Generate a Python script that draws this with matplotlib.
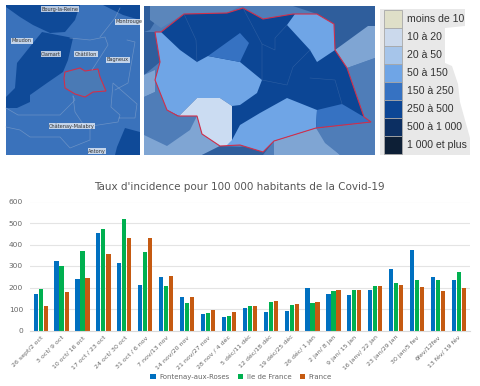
import matplotlib
matplotlib.use("Agg")
import matplotlib.pyplot as plt
from matplotlib.patches import Polygon, Rectangle
import numpy as np

# bar chart values
periods = ["26 sept/2 oct", "3 oct/ 9 oct", "10 oct/ 16 oct", "17 oct / 23 oct", "24 oct/ 30 oct",
           "31 oct / 6 nov", "7 nov/13 nov", "14 nov/20 nov", "21 nov/27 nov", "28 nov / 4 déc",
           "5 déc/11 déc", "12 déc/18 déc", "19 déc/25 déc", "26 déc/ 1 jan", "2 jan/ 8 jan",
           "9 jan/ 15 jan", "16 janv/ 22 jan", "23 jan/29 jan", "30 jan/5 fev", "6fev/12fev", "13 fév/ 19 fév"]
fontenay = [168, 325, 240, 455, 313, 212, 248, 155, 78, 62, 105, 87, 90, 198, 168, 163, 188, 285, 376, 248, 237]
idf = [195, 298, 370, 473, 518, 365, 207, 128, 82, 66, 112, 133, 118, 128, 182, 190, 208, 220, 235, 234, 270]
france = [112, 178, 246, 355, 428, 428, 255, 155, 95, 85, 113, 138, 125, 133, 190, 187, 206, 210, 202, 184, 198]

# map legend
class_labels = ["moins de 10", "10 à 20", "20 à 50", "50 à 150", "150 à 250", "250 à 500", "500 à 1 000", "1 000 et plus"]
class_colors = ["#dfdfc8", "#cbd9ec", "#a6c5ea", "#6fa5e6", "#3672c2", "#0c4695", "#0c2f62", "#0d1f36"]

# left map, pixel outlines of the communes
left_dark = [
    [(6, 5), (80, 5), (75, 20), (65, 32), (50, 33), (33, 25), (20, 17), (6, 7)],
    [(42, 32), (73, 38), (68, 60), (63, 72), (47, 83), (30, 95), (30, 102), (17, 108), (6, 108),
     (6, 97), (15, 88), (17, 63), (25, 53), (33, 43)],
    [(103, 5), (140, 5), (140, 20), (123, 15)],
    [(125, 128), (140, 132), (140, 155), (115, 155), (117, 147)],
]
left_lines = [
    [(6, 108), (18, 115), (60, 115), (75, 100), (73, 96)],
    [(73, 96), (75, 112), (85, 127), (118, 122), (120, 115), (111, 107), (113, 83), (137, 104), (135, 118), (119, 118)],
    [(6, 127), (20, 130), (30, 137), (60, 137), (70, 148), (90, 140), (90, 128)],
    [(127, 40), (135, 42), (128, 83), (115, 90)],
    [(70, 38), (90, 40), (105, 37), (108, 45), (92, 70)],
    [(100, 37), (115, 18), (120, 8)],
]
fontenay_outline = [(65, 72), (80, 68), (85, 71), (98, 69), (100, 77), (106, 91), (93, 92), (85, 97), (75, 94), (65, 88), (64, 78)]
left_labels = ["Bourg-la-Reine", "Meudon", "Clamart", "Châtillon", "Bagneux", "Montrouge", "Châtenay-Malabry", "Antony"]
left_label_xy = [(60, 9), (22, 41), (51, 54), (86, 54), (118, 60), (129, 22), (72, 126), (97, 151)]

# zoomed map, pixel outlines
zoom_outline = [(184, 14), (227, 13), (243, 8), (263, 19), (293, 14), (317, 14), (334, 24), (335, 50), (347, 68),
                (364, 117), (371, 122), (316, 128), (274, 141), (263, 152), (240, 145), (220, 146), (202, 134),
                (197, 116), (178, 116), (167, 110), (155, 80), (160, 62), (155, 32), (161, 32)]
zoom_cells = [
    ("#6fa5e6", [(155, 32), (161, 32), (180, 50), (197, 62), (208, 56), (240, 62), (262, 80), (257, 93), (240, 105),
                 (232, 106), (220, 98), (197, 98), (179, 116), (167, 110), (155, 80), (160, 62)]),
    ("#cbdcf2", [(179, 116), (197, 98), (220, 98), (232, 106), (232, 146), (220, 146), (202, 134), (197, 116)]),
    ("#3672c2", [(208, 56), (240, 33), (249, 43), (240, 62)]),
    ("#6fa5e6", [(287, 25), (295, 14), (317, 14), (334, 24), (335, 50), (317, 62), (310, 50)]),
    ("#6fa5e6", [(240, 145), (263, 152), (274, 141), (316, 128), (317, 110), (287, 98), (260, 113), (240, 125), (232, 140), (226, 146)]),
    ("#3672c2", [(317, 110), (342, 104), (364, 117), (371, 122), (316, 128)]),
]
zoom_outside = [
    ("#2f5e9c", [(144, 6), (165, 6), (150, 30), (144, 32)]),
    ("#2f5e9c", [(144, 32), (155, 32), (160, 62), (144, 75)]),
    ("#7fa5d3", [(144, 75), (155, 70), (155, 92), (144, 97)]),
    ("#5b86bb", [(150, 6), (240, 6), (227, 13), (184, 14), (161, 28), (150, 20)]),
    ("#4f7db8", [(240, 6), (293, 6), (293, 14), (263, 19), (243, 8)]),
    ("#2f5e9c", [(293, 6), (375, 6), (375, 26), (335, 50), (334, 24), (317, 14)]),
    ("#7fa5d3", [(335, 50), (368, 26), (375, 26), (375, 58), (347, 68)]),
    ("#4f7db8", [(347, 68), (375, 58), (375, 123), (364, 117)]),
    ("#4f7db8", [(144, 97), (155, 92), (167, 110), (197, 116), (190, 130), (167, 146), (144, 135)]),
    ("#7fa5d3", [(144, 135), (167, 146), (190, 130), (197, 116), (202, 134), (220, 146), (202, 155), (144, 155)]),
    ("#2f5e9c", [(202, 155), (220, 146), (240, 147), (274, 141), (263, 155)]),
    ("#7fa5d3", [(274, 141), (316, 128), (330, 145), (340, 155), (274, 155)]),
    ("#4f7db8", [(316, 128), (375, 123), (375, 155), (340, 155), (325, 143)]),
]
zoom_inner = [
    [(184, 14), (196, 40), (197, 62)],
    [(243, 8), (262, 44), (275, 50), (275, 38), (287, 25)],
    [(262, 44), (262, 80), (287, 85), (293, 67), (310, 50)],
    [(310, 78), (335, 80), (342, 104)],
]
legend_edge = [(380, 9), (465, 9), (465, 26), (445, 28), (445, 63), (452, 66), (458, 84), (460, 102), (465, 120),
               (470, 138), (470, 155), (380, 155)]

fig = plt.figure(figsize=(4.8, 3.86), dpi=100)
bg = fig.add_axes([0, 0, 1, 1])
bg.set_xlim(0, 480); bg.set_ylim(386, 0); bg.axis("off")

# left map
bg.add_patch(Rectangle((6, 5), 134, 150, fc="#3a72bb", ec="none"))
for pts in left_dark:
    bg.add_patch(Polygon(pts, fc="#0f4a98", ec="none"))
for pts in left_lines:
    bg.plot(*zip(*pts), color="#7f9fca", lw=0.5, alpha=0.7)
bg.add_patch(Polygon(fontenay_outline, fc="#4a7ab5", ec="#d22f4a", lw=0.8))
for lab, (x, y) in zip(left_labels, left_label_xy):
    bg.text(x, y, lab, fontsize=3.6, color="#333333", ha="center", va="center",
            bbox=dict(fc="white", ec="none", alpha=0.7, pad=0.4))

# zoomed map
bg.add_patch(Rectangle((144, 6), 231, 149, fc="#4f7db8", ec="none"))
for col, pts in zoom_outside:
    bg.add_patch(Polygon(pts, fc=col, ec="none"))
bg.add_patch(Polygon(zoom_outline, fc="#0c4695", ec="none"))
for col, pts in zoom_cells:
    bg.add_patch(Polygon(pts, fc=col, ec="none"))
for pts in zoom_inner:
    bg.plot(*zip(*pts), color="#3a68a8", lw=0.4, alpha=0.7)
bg.add_patch(Polygon(zoom_outline, fc="none", ec="#d22f4a", lw=0.8))

# map legend
bg.add_patch(Polygon(legend_edge, fc="#e8e8e8", ec="none"))
for i, (lab, col) in enumerate(zip(class_labels, class_colors)):
    y0 = 10 + i * 18
    bg.add_patch(Rectangle((384, y0), 18, 18, fc=col, ec="#a8a8a8", lw=0.6))
    bg.text(407, y0 + 9.5, lab, fontsize=7.6, family="Liberation Sans", color="#333333", va="center")

# incidence bars
ax = fig.add_axes([30 / 480, 1 - 330.5 / 386, 440 / 480, 129 / 386])
x = np.arange(len(periods))
w = 0.2
ax.bar(x - 0.24, fontenay, w, color="#0070c0", label="Fontenay-aux-Roses")
ax.bar(x + 0.0, idf, w, color="#00b050", label="Ile de France")
ax.bar(x + 0.24, france, w, color="#c55a11", label="France")
ax.set_xlim(-0.51, 20.53); ax.set_ylim(0, 600)
ax.set_yticks(range(0, 601, 100))
ax.set_xticks(x)
ax.set_xticklabels(periods, rotation=45, ha="right", rotation_mode="anchor", fontsize=4.5, color="#666666")
ax.tick_params(axis="x", length=0, pad=3)
ax.tick_params(axis="y", length=0, labelsize=5.4, labelcolor="#666666", pad=5)
ax.grid(axis="y", color="#e4e4e4", lw=0.8)
ax.set_axisbelow(True)
for s in ("top", "right", "left"):
    ax.spines[s].set_visible(False)
ax.spines["bottom"].set_color("#d9d9d9")
fig.text(239 / 480, 1 - 187 / 386, "Taux d'incidence pour 100 000 habitants de la Covid-19",
         fontsize=7.5, color="#555555", ha="center", va="center")
fig.legend(loc="center", bbox_to_anchor=(241 / 480, 1 - 377 / 386), ncol=3, frameon=False, fontsize=5.0,
           labelcolor="#666666", handlelength=0.8, handleheight=0.8, handletextpad=0.5, columnspacing=1.2)

fig.savefig("out.png", dpi=100)
